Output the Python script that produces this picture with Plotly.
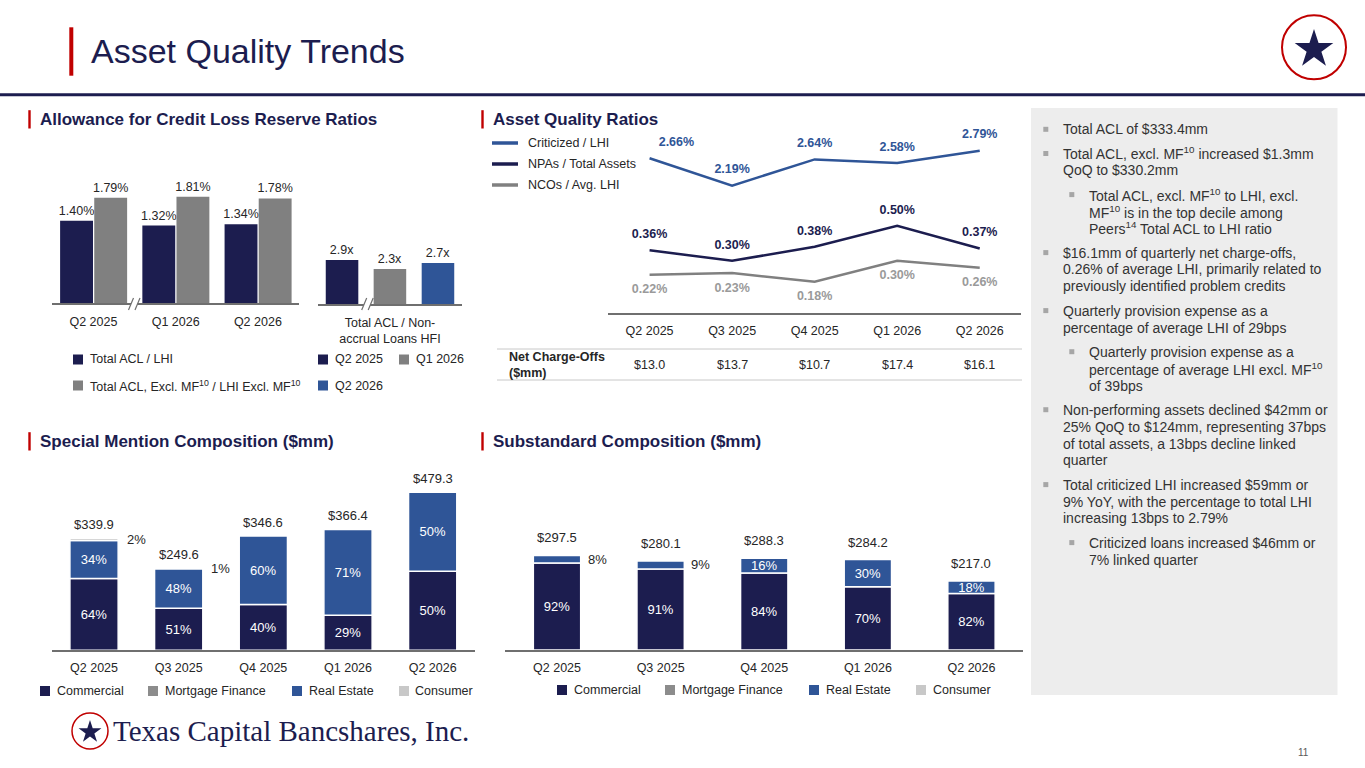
import math
import plotly.graph_objects as go

# ---------------- data ----------------
acl_periods = ["Q2 2025", "Q1 2026", "Q2 2026"]
acl_total_lhi = [1.40, 1.32, 1.34]
acl_excl_mf = [1.79, 1.81, 1.78]
acl_legend = ["Total ACL / LHI", "Total ACL, Excl. MF<sup>10</sup> / LHI Excl. MF<sup>10</sup>"]

nonaccrual_category = ["Total ACL / Non-<br>accrual Loans HFI"]
acl_nonaccrual = [2.9, 2.3, 2.7]          # Q2 2025, Q1 2026, Q2 2026

quarters = ["Q2 2025", "Q3 2025", "Q4 2025", "Q1 2026", "Q2 2026"]
ratio_names = ["Criticized / LHI", "NPAs / Total Assets", "NCOs / Avg. LHI"]
criticized_lhi = [2.66, 2.19, 2.64, 2.58, 2.79]
npas_assets = [0.36, 0.30, 0.38, 0.50, 0.37]
ncos_lhi = [0.22, 0.23, 0.18, 0.30, 0.26]
net_charge_offs = [13.0, 13.7, 10.7, 17.4, 16.1]

segments = ["Commercial", "Mortgage Finance", "Real Estate", "Consumer"]

sm_total = [339.9, 249.6, 346.6, 366.4, 479.3]
sm_commercial = [64, 51, 40, 29, 50]
sm_mortgage = [0, 0, 0, 0, 0]
sm_real_estate = [34, 48, 60, 71, 50]
sm_consumer = [2, 1, 0, 0, 0]

ss_total = [297.5, 280.1, 288.3, 284.2, 217.0]
ss_commercial = [92, 91, 84, 70, 82]
ss_mortgage = [0, 0, 0, 0, 0]
ss_real_estate = [8, 9, 16, 30, 18]
ss_consumer = [0, 0, 0, 0, 0]

bullets = [
    (1, ["Total ACL of $333.4mm"]),
    (1, ["Total ACL, excl. MF<sup>10</sup> increased $1.3mm", "QoQ to $330.2mm"]),
    (2, ["Total ACL, excl. MF<sup>10</sup> to LHI, excl.", "MF<sup>10</sup> is in the top decile among",
         "Peers<sup>14</sup> Total ACL to LHI ratio"]),
    (1, ["$16.1mm of quarterly net charge-offs,", "0.26% of average LHI, primarily related to",
         "previously identified problem credits"]),
    (1, ["Quarterly provision expense as a", "percentage of average LHI of 29bps"]),
    (2, ["Quarterly provision expense as a", "percentage of average LHI excl. MF<sup>10</sup>", "of 39bps"]),
    (1, ["Non-performing assets declined $42mm or", "25% QoQ to $124mm, representing 37bps",
         "of total assets, a 13bps decline linked", "quarter"]),
    (1, ["Total criticized LHI increased $59mm or", "9% YoY, with the percentage to total LHI",
         "increasing 13bps to 2.79%"]),
    (2, ["Criticized loans increased $46mm or", "7% linked quarter"]),
]

# ---------------- style ----------------
W, H = 1365, 768
def X(p): return p / W
def Y(p): return 1 - p / H

NAVY = "#1c1d4f"
GRAY = "#808080"
BLUE = "#2f5597"
MGRAY = "#8c8c8c"
LGRAY = "#c8c8c8"
RED = "#c00000"
TXT = "#262626"
AXIS = "#6f6f6f"
FONT = "Arial, Liberation Sans, sans-serif"
seg_colors = [NAVY, MGRAY, BLUE, LGRAY]
CLEAR = "rgba(0,0,0,0)"

fig = go.Figure()

# ---- Chart 1: ACL ratios ----
for vals, color, off in [(acl_total_lhi, NAVY, -0.405), (acl_excl_mf, GRAY, 0.01)]:
    fig.add_bar(x=acl_periods, y=vals, xaxis="x", yaxis="y", marker=dict(color=color, line=dict(width=0)),
                width=0.4, offset=off, texttemplate="%{y:.2f}%", textposition="outside",
                textfont=dict(size=12.5, color=TXT), cliponaxis=False, constraintext="none",
                hoverinfo="skip", showlegend=False)

# ---- Chart 1b: ACL / non-accrual ----
for val, color, off in zip(acl_nonaccrual, [NAVY, GRAY, BLUE], [-0.448, -0.114, 0.221]):
    fig.add_bar(x=nonaccrual_category, y=[val], xaxis="x2", yaxis="y2",
                marker=dict(color=color, line=dict(width=0)), width=0.227, offset=off,
                texttemplate="%{y:.1f}x", textposition="outside", textfont=dict(size=12.5, color=TXT),
                cliponaxis=False, constraintext="none", hoverinfo="skip", showlegend=False)

# ---- Chart 2: asset quality ratio lines ----
line_specs = [
    (criticized_lhi, "y3", BLUE, BLUE, ["top right"] + ["top center"] * 4),
    (npas_assets, "y4", NAVY, NAVY, "top center"),
    (ncos_lhi, "y4", GRAY, "#9a9a9a", "bottom center"),
]
for vals, ya, lc, tc, tpos in line_specs:
    fig.add_scatter(x=quarters, y=vals, xaxis="x3", yaxis=ya, mode="lines+markers+text",
                    line=dict(color=lc, width=2.5), marker=dict(size=13, color=CLEAR),
                    texttemplate="%{y:.2f}%", textposition=tpos,
                    textfont=dict(size=12.5, color=tc, weight="bold"), cliponaxis=False,
                    hoverinfo="skip", showlegend=False)

annotations = []
shapes = []

def stacked(totals, pcts_list, xa, ya, width, total_shift, side_shift):
    base = [0.0] * len(totals)
    for name, pcts, color in zip(segments, pcts_list, seg_colors):
        vals = [t * p / 100 for t, p in zip(totals, pcts)]
        keep = [i for i, v in enumerate(vals) if v > 0]
        if keep:
            fig.add_bar(x=[quarters[i] for i in keep], y=[vals[i] for i in keep],
                        base=[base[i] for i in keep], xaxis=xa, yaxis=ya, name=name,
                        marker=dict(color=color, line=dict(color="white", width=1.5)),
                        width=width, offset=-width / 2,
                        text=[f"{pcts[i]}%" if pcts[i] >= 10 else None for i in keep],
                        textposition="inside", insidetextanchor="middle", textangle=0,
                        constraintext="none", textfont=dict(size=13, color="white"),
                        hoverinfo="skip", showlegend=False)
        for q, b, v, p in zip(quarters, base, vals, pcts):
            if 0 < p < 10:
                annotations.append(dict(x=q, y=b + v / 2, xref=xa, yref=ya, text=f"{p}%",
                                        showarrow=False, xshift=side_shift,
                                        font=dict(size=13, color=TXT)))
        base = [b + v for b, v in zip(base, vals)]
    for q, t in zip(quarters, totals):
        annotations.append(dict(x=q, y=t, xref=xa, yref=ya, text=f"${t:.1f}", showarrow=False,
                                yanchor="bottom", yshift=total_shift, font=dict(size=13, color=TXT)))

stacked(sm_total, [sm_commercial, sm_mortgage, sm_real_estate, sm_consumer], "x5", "y5", 0.57, 4, 42)
stacked(ss_total, [ss_commercial, ss_mortgage, ss_real_estate, ss_consumer], "x6", "y6", 0.457, 8, 40)

# net charge-off table values
for q, v in zip(quarters, net_charge_offs):
    annotations.append(dict(x=q, xref="x3", y=Y(365), yref="paper", text=f"${v:.1f}", showarrow=False,
                            font=dict(size=12.5, color=TXT)))

# ---------------- axes ----------------
def xax(dom, anchor, n, standoff=5):
    return dict(domain=[X(dom[0]), X(dom[1])], anchor=anchor, range=[-0.5, n - 0.5], showline=True,
                linecolor=AXIS, linewidth=2, ticks="outside", ticklen=standoff,
                tickcolor=CLEAR, tickfont=dict(size=12.5, color=TXT), showgrid=False,
                zeroline=False, fixedrange=True)

def yax(dom, rng, anchor):
    return dict(domain=[Y(dom[0]), Y(dom[1])], range=rng, anchor=anchor, visible=False,
                showgrid=False, zeroline=False, fixedrange=True)

layout_axes = dict(
    xaxis=xax((52.3, 299), "y", len(acl_periods), 6),
    yaxis=yax((303.3, 150), [0, (303.3 - 150) / 58.9], "x"),
    xaxis2=xax((318.3, 461.7), "y2", 1, 6),
    yaxis2=yax((304, 150), [0, (304 - 150) / 15.2], "x2"),
    xaxis3=xax((608.3, 1021), "y3", len(quarters), 5),
    yaxis3=yax((313.3, 140), [0, (313.3 - 140) / 58.3], "x3"),
    yaxis4=dict(overlaying="y3", range=[0, (313.3 - 140) / 175], anchor="x3", visible=False,
                showgrid=False, zeroline=False),
    xaxis5=xax((51.7, 475), "y5", len(quarters), 5),
    yaxis5=yax((650.3, 470), [0, (650.3 - 470) / 0.33], "x5"),
    xaxis6=xax((505.2, 1023.3), "y6", len(quarters), 5),
    yaxis6=yax((650, 470), [0, (650 - 470) / 0.318], "x6"),
)

# ---------------- decorations ----------------
def rect(x0, y0, x1, y1, color, layer="above"):
    shapes.append(dict(type="rect", xref="paper", yref="paper", x0=X(x0), x1=X(x1), y0=Y(y0), y1=Y(y1),
                       fillcolor=color, line=dict(width=0), layer=layer))

def line(x0, y0, x1, y1, color, width):
    shapes.append(dict(type="line", xref="paper", yref="paper", x0=X(x0), x1=X(x1), y0=Y(y0), y1=Y(y1),
                       line=dict(color=color, width=width)))

def text(x, y, s, size=12.5, color=TXT, anchor="left", bold=False, family=FONT):
    annotations.append(dict(x=X(x), y=Y(y), xref="paper", yref="paper", text=s, showarrow=False,
                            xanchor=anchor, yanchor="middle", align=anchor if anchor != "center" else "center",
                            borderpad=0,
                            font=dict(size=size, color=color, family=family,
                                      weight="bold" if bold else "normal")))

def star(cx, cy, R, color):
    pts = []
    for i in range(10):
        a = -math.pi / 2 + i * math.pi / 5
        r = R if i % 2 == 0 else R * 0.382
        pts.append((X(cx + r * math.cos(a)), Y(cy + r * math.sin(a))))
    path = "M " + " L ".join(f"{px:.5f},{py:.5f}" for px, py in pts) + " Z"
    shapes.append(dict(type="path", xref="paper", yref="paper", path=path, fillcolor=color,
                       line=dict(width=0)))

def circle(cx, cy, r, color, width):
    shapes.append(dict(type="circle", xref="paper", yref="paper", x0=X(cx - r), x1=X(cx + r),
                       y0=Y(cy + r), y1=Y(cy - r), line=dict(color=color, width=width)))

# right panel
rect(1031, 108, 1337.5, 695, "#ededed", layer="below")

# title
rect(69.3, 27.3, 73.3, 75.7, RED)
text(90, 51, "Asset Quality Trends", size=34, color=NAVY)
line(0, 94.7, W, 94.7, NAVY, 3)
circle(1314, 47.3, 32, RED, 2)
star(1314, 49.3, 20.3, NAVY)

# section headers
for x, y, s in [(39, 119.5, "Allowance for Credit Loss Reserve Ratios"), (492, 119.5, "Asset Quality Ratios"),
                (39, 441.5, "Special Mention Composition ($mm)"), (492, 441.5, "Substandard Composition ($mm)")]:
    rect(x - 10.7, y - 9.3, x - 8.3, y + 9, RED)
    text(x, y, s, size=17, color=NAVY, bold=True)

# axis break marks
for bx in (128.5, 361.7):
    shapes.append(dict(type="path", xref="paper", yref="paper",
                       path=f"M {X(bx):.5f},{Y(310):.5f} L {X(bx+5):.5f},{Y(298):.5f} "
                            f"L {X(bx+11.5):.5f},{Y(298):.5f} L {X(bx+6.5):.5f},{Y(310):.5f} Z",
                       fillcolor="white", line=dict(width=0)))
    line(bx, 310, bx + 5, 298, AXIS, 1.2)
    line(bx + 6.5, 310, bx + 11.5, 298, AXIS, 1.2)

# chart 1 legends
for (sx, sy, s, c) in [(73, 359.5, acl_legend[0], NAVY), (73, 385.5, acl_legend[1], GRAY),
                       (318, 359.5, acl_periods[0], NAVY), (399, 359.5, acl_periods[1], GRAY),
                       (318, 385.5, acl_periods[2], BLUE)]:
    rect(sx, sy - 5, sx + 10, sy + 5, c)
    text(sx + 15.7, sy, s)

# line legend
for (ly, s, c) in zip([143, 164, 185], ratio_names, [BLUE, NAVY, GRAY]):
    line(492, ly, 518, ly, c, 3.5)
    text(527, ly, s)

# NCO table
line(497, 349, 1022, 349, "#c8c8c8", 1)
line(497, 380, 1022, 380, "#c8c8c8", 1)
text(508, 364.5, "Net Charge-Offs<br>($mm)", bold=True)

# composition legends
for sq, seg, c in zip([40, 148, 292, 399], segments, seg_colors):
    rect(sq, 686, sq + 10, 696, c)
    text(sq + 15.5, 691, seg)
for sq, seg, c in zip([557, 665, 809, 916], segments, seg_colors):
    rect(sq, 685, sq + 10, 695, c)
    text(sq + 15.5, 690, seg)

# bullets
yy = 129.3
for level, lines in bullets:
    tx = 1061.7 if level == 1 else 1087.7
    bx = 1043.3 if level == 1 else 1069.3
    rect(bx, yy - 2.5, bx + 5, yy + 2.5, "#a6a6a6")
    for i, ln in enumerate(lines):
        text(tx, yy + i * 16.9, ln, size=14, color="#333333")
    yy += (len(lines) - 1) * 16.9 + 24.2

# footer
circle(90, 731, 18, RED, 1.5)
star(90, 732, 12, NAVY)
text(112, 731, "Texas Capital Bancshares, Inc.", size=29, color=NAVY,
     family="Liberation Serif, Times New Roman, serif")
text(1303, 752, "11", size=10, color="#595959", anchor="center")

fig.update_layout(
    width=W, height=H, margin=dict(l=0, r=0, t=0, b=0), paper_bgcolor="white", plot_bgcolor="white",
    barmode="group", font=dict(family=FONT, color=TXT), showlegend=False,
    annotations=annotations, shapes=shapes, **layout_axes,
)

fig.write_html("out.html", config={"displayModeBar": False},
               post_script="document.body.style.margin='0px';document.body.style.overflow='hidden';")
